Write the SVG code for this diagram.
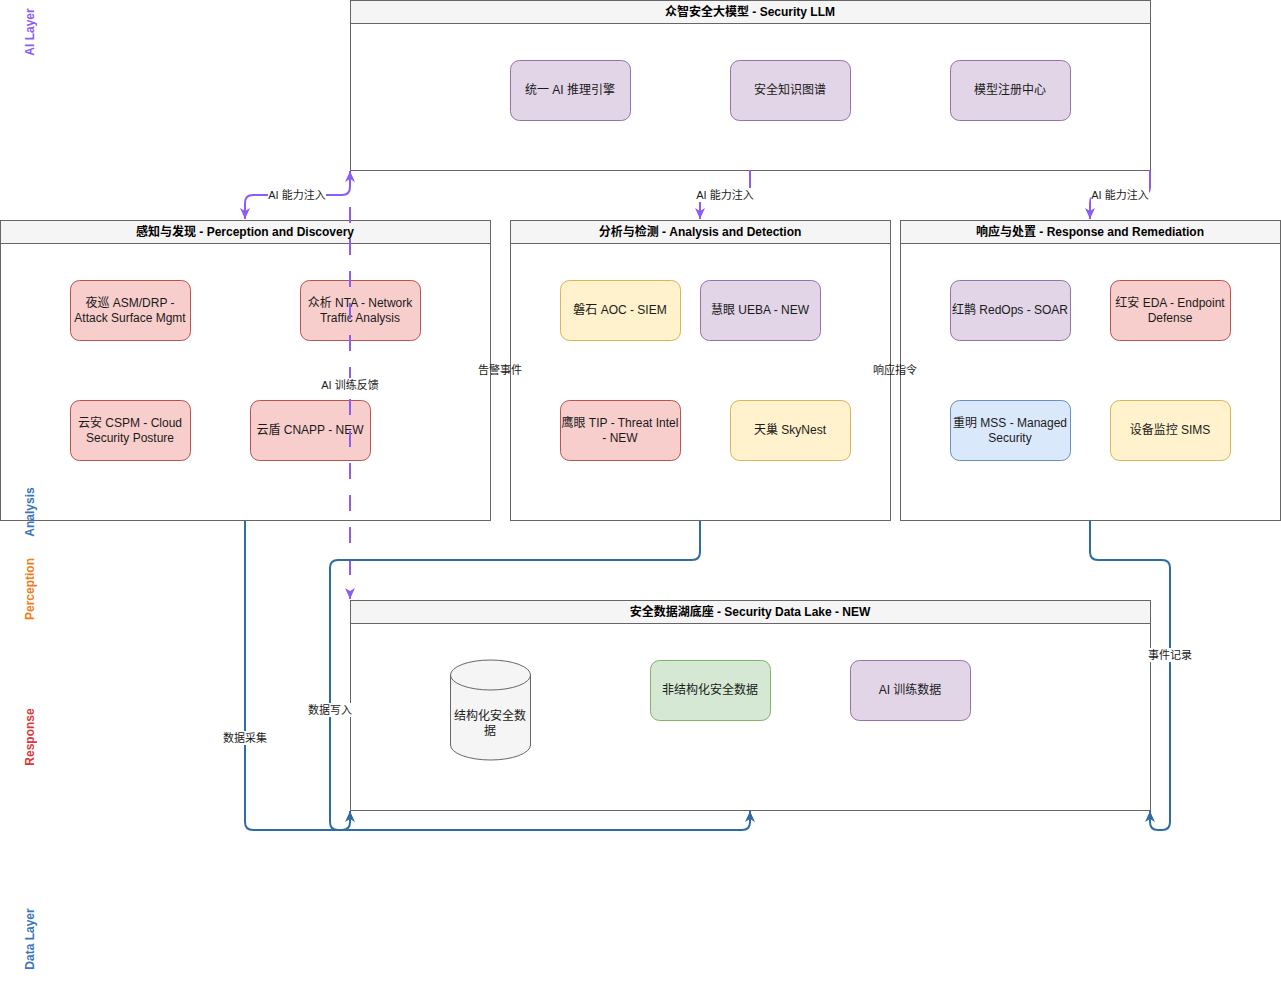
<svg xmlns="http://www.w3.org/2000/svg" width="1281" height="1006" viewBox="0 0 1281 1006">
<style>
text{font-family:"Liberation Sans","Noto Sans CJK SC",sans-serif;fill:#1a1a1a}
.ct{stroke:#666;stroke-width:1;fill:#fff}
.hd{stroke:#666;stroke-width:1;fill:#f5f5f5}
.title{font-size:12px;font-weight:bold;text-anchor:middle;dominant-baseline:central;fill:#000}
.nt{font-size:12px;text-anchor:middle;dominant-baseline:central}
.pu{fill:#e1d5e7;stroke:#9673a6}
.rd{fill:#f8cecc;stroke:#b85450}
.ye{fill:#fff2cc;stroke:#d6b656}
.bl{fill:#dae8fc;stroke:#6c8ebf}
.gr{fill:#d5e8d4;stroke:#82b366}
.el{font-size:11px;text-anchor:middle;dominant-baseline:central}
.lbg{fill:#fff}
.ep{fill:none;stroke:#8b5cf6;stroke-width:2}
.eb{fill:none;stroke:#2e6da4;stroke-width:2}
.ly{font-size:12px;font-weight:bold;text-anchor:middle;dominant-baseline:central}
</style>
<defs>
<marker id="ap" markerUnits="userSpaceOnUse" markerWidth="12" markerHeight="12" viewBox="0 0 12 12" refX="11" refY="6" orient="auto-start-reverse"><path d="M0,1 L11,6 L0,11 L3,6 z" fill="#8b5cf6"/></marker>
<marker id="ab" markerUnits="userSpaceOnUse" markerWidth="12" markerHeight="12" viewBox="0 0 12 12" refX="11" refY="6" orient="auto-start-reverse"><path d="M0,1 L11,6 L0,11 L3,6 z" fill="#2e6da4"/></marker>
</defs>

<g id="llm">
<rect class="ct" x="350.5" y="0.5" width="800" height="170"/>
<rect class="hd" x="350.5" y="0.5" width="800" height="23"/>
<text class="title" x="750" y="12">众智安全大模型 - Security LLM</text>
</g>
<g id="llm-engine"><rect class="pu" x="510.5" y="60.5" width="120" height="60" rx="9"/><text class="nt" x="570" y="90">统一 AI 推理引擎</text></g>
<g id="llm-kg"><rect class="pu" x="730.5" y="60.5" width="120" height="60" rx="9"/><text class="nt" x="790" y="90">安全知识图谱</text></g>
<g id="llm-registry"><rect class="pu" x="950.5" y="60.5" width="120" height="60" rx="9"/><text class="nt" x="1010" y="90">模型注册中心</text></g>

<g id="perception">
<rect class="ct" x="0.5" y="220.5" width="490" height="300"/>
<rect class="hd" x="0.5" y="220.5" width="490" height="23"/>
<text class="title" x="245" y="232">感知与发现 - Perception and Discovery</text>
</g>
<g id="asm"><rect class="rd" x="70.5" y="280.5" width="120" height="60" rx="9"/><text class="nt" x="130" y="303">夜巡 ASM/DRP -</text><text class="nt" x="130" y="318">Attack Surface Mgmt</text></g>
<g id="nta"><rect class="rd" x="300.5" y="280.5" width="120" height="60" rx="9"/><text class="nt" x="360" y="303">众析 NTA - Network</text><text class="nt" x="360" y="318">Traffic Analysis</text></g>
<g id="cspm"><rect class="rd" x="70.5" y="400.5" width="120" height="60" rx="9"/><text class="nt" x="130" y="423">云安 CSPM - Cloud</text><text class="nt" x="130" y="438">Security Posture</text></g>
<g id="cnapp"><rect class="rd" x="250.5" y="400.5" width="120" height="60" rx="9"/><text class="nt" x="310" y="430">云盾 CNAPP - NEW</text></g>

<g id="analysis">
<rect class="ct" x="510.5" y="220.5" width="380" height="300"/>
<rect class="hd" x="510.5" y="220.5" width="380" height="23"/>
<text class="title" x="700" y="232">分析与检测 - Analysis and Detection</text>
</g>
<g id="aoc"><rect class="ye" x="560.5" y="280.5" width="120" height="60" rx="9"/><text class="nt" x="620" y="310">磐石 AOC - SIEM</text></g>
<g id="ueba"><rect class="pu" x="700.5" y="280.5" width="120" height="60" rx="9"/><text class="nt" x="760" y="310">慧眼 UEBA - NEW</text></g>
<g id="tip"><rect class="rd" x="560.5" y="400.5" width="120" height="60" rx="9"/><text class="nt" x="620" y="423">鹰眼 TIP - Threat Intel</text><text class="nt" x="620" y="438">- NEW</text></g>
<g id="skynest"><rect class="ye" x="730.5" y="400.5" width="120" height="60" rx="9"/><text class="nt" x="790" y="430">天巢 SkyNest</text></g>

<g id="response">
<rect class="ct" x="900.5" y="220.5" width="380" height="300"/>
<rect class="hd" x="900.5" y="220.5" width="380" height="23"/>
<text class="title" x="1090" y="232">响应与处置 - Response and Remediation</text>
</g>
<g id="redops"><rect class="pu" x="950.5" y="280.5" width="120" height="60" rx="9"/><text class="nt" x="1010" y="310">红鹊 RedOps - SOAR</text></g>
<g id="eda"><rect class="rd" x="1110.5" y="280.5" width="120" height="60" rx="9"/><text class="nt" x="1170" y="303">红安 EDA - Endpoint</text><text class="nt" x="1170" y="318">Defense</text></g>
<g id="mss"><rect class="bl" x="950.5" y="400.5" width="120" height="60" rx="9"/><text class="nt" x="1010" y="423">重明 MSS - Managed</text><text class="nt" x="1010" y="438">Security</text></g>
<g id="sims"><rect class="ye" x="1110.5" y="400.5" width="120" height="60" rx="9"/><text class="nt" x="1170" y="430">设备监控 SIMS</text></g>

<g id="datalake">
<rect class="ct" x="350.5" y="600.5" width="800" height="210"/>
<rect class="hd" x="350.5" y="600.5" width="800" height="23"/>
<text class="title" x="750" y="612">安全数据湖底座 - Security Data Lake - NEW</text>
</g>
<g id="structured">
<path d="M450.5,675 A40,15 0 0 1 530.5,675 V745 A40,15 0 0 1 450.5,745 Z" fill="#f5f5f5" stroke="#666"/>
<path d="M450.5,675 A40,15 0 0 0 530.5,675" fill="none" stroke="#666"/>
<text class="nt" x="490" y="716">结构化安全数</text><text class="nt" x="490" y="731">据</text>
</g>
<g id="unstructured"><rect class="gr" x="650.5" y="660.5" width="120" height="60" rx="9"/><text class="nt" x="710" y="690">非结构化安全数据</text></g>
<g id="aitrain"><rect class="pu" x="850.5" y="660.5" width="120" height="60" rx="9"/><text class="nt" x="910" y="690">AI 训练数据</text></g>

<g id="connectors">
<path class="ep" d="M350,171 V187 Q350,195 342,195 H253 Q245,195 245,203 V219" marker-start="url(#ap)" marker-end="url(#ap)"/>
<rect class="lbg" x="268" y="188" width="58" height="14"/>
<text class="el" x="297" y="195">AI 能力注入</text>
<path class="ep" d="M750,170 V187 Q750,195 742,195 H708 Q700,195 700,203 V219" marker-end="url(#ap)"/>
<rect class="lbg" x="696" y="188" width="58" height="14"/>
<text class="el" x="725" y="195">AI 能力注入</text>
<path class="ep" d="M1150,170 V187 Q1150,195 1142,195 H1098 Q1090,195 1090,203 V219" marker-end="url(#ap)"/>
<rect class="lbg" x="1091" y="188" width="58" height="14"/>
<text class="el" x="1120" y="195">AI 能力注入</text>
<path class="ep" d="M350,207 V599" stroke-dasharray="16 16" marker-end="url(#ap)"/>
<rect class="lbg" x="320" y="378" width="60" height="14"/>
<text class="el" x="350" y="385">AI 训练反馈</text>
<text class="el" x="500" y="370">告警事件</text>
<text class="el" x="895" y="370">响应指令</text>
<path class="eb" d="M245,521 V822 Q245,830 253,830 H342 Q350,830 350,822 V811" marker-end="url(#ab)"/>
<rect class="lbg" x="222" y="731" width="46" height="14"/>
<text class="el" x="245" y="738">数据采集</text>
<path class="eb" d="M700,521 V552 Q700,560 692,560 H338 Q330,560 330,568 V822 Q330,830 338,830 H742 Q750,830 750,822 V811" marker-end="url(#ab)"/>
<rect class="lbg" x="307" y="703" width="46" height="14"/>
<text class="el" x="330" y="710">数据写入</text>
<path class="eb" d="M1090,521 V552 Q1090,560 1098,560 H1162 Q1170,560 1170,568 V822 Q1170,830 1162,830 H1158 Q1150,830 1150,822 V811" marker-end="url(#ab)"/>
<rect class="lbg" x="1147" y="648" width="46" height="14"/>
<text class="el" x="1170" y="655">事件记录</text>
</g>

<g id="layer-labels">
<text class="ly" style="fill:#8b5cf6" transform="rotate(-90 30 32)" x="30" y="32">AI Layer</text>
<text class="ly" style="fill:#3a75bd" transform="rotate(-90 30 512)" x="30" y="512">Analysis</text>
<text class="ly" style="fill:#ee7d1a" transform="rotate(-90 30 589)" x="30" y="589">Perception</text>
<text class="ly" style="fill:#d83a3a" transform="rotate(-90 30 737)" x="30" y="737">Response</text>
<text class="ly" style="fill:#3a75bd" transform="rotate(-90 30 939)" x="30" y="939">Data Layer</text>
</g>
</svg>
